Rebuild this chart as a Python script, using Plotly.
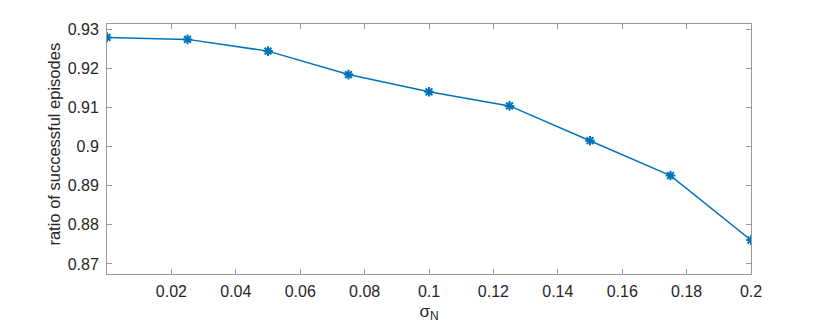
import plotly.graph_objects as go

# noise level and the ratio of successful episodes at each level
sigma_n = [0.0, 0.025, 0.05, 0.075, 0.1, 0.125, 0.15, 0.175, 0.2]
success_ratio = [0.9279, 0.9274, 0.9244, 0.9184, 0.9140, 0.9104, 0.9015, 0.8926, 0.8761]

x_ticks = [0.02, 0.04, 0.06, 0.08, 0.1, 0.12, 0.14, 0.16, 0.18, 0.2]
x_tick_text = ['0.02', '0.04', '0.06', '0.08', '0.1', '0.12', '0.14', '0.16', '0.18', '0.2']
y_ticks = [0.87, 0.88, 0.89, 0.9, 0.91, 0.92, 0.93]
y_tick_text = ['0.87', '0.88', '0.89', '0.9', '0.91', '0.92', '0.93']

fig = go.Figure()
fig.add_trace(go.Scatter(x=sigma_n, y=success_ratio, mode='lines+markers',
                         line=dict(color='#0072BD', width=1.5),
                         marker=dict(symbol='asterisk-open', size=8,
                                     line=dict(color='#0072BD', width=2)),
                         showlegend=False))

axis_style = dict(showline=True, linecolor='#999999', linewidth=1, mirror='ticks',
                  ticks='inside', ticklen=5, tickcolor='#999999', showgrid=False,
                  zeroline=False, tickfont=dict(family='Liberation Sans, Arial', size=16,
                                                color='#262626'))

fig.update_layout(
    width=830, height=334,
    margin=dict(l=107, r=79, t=24, b=60),
    paper_bgcolor='white', plot_bgcolor='white',
    font=dict(family='Liberation Sans, Arial', color='#262626'),
    xaxis=dict(range=[0, 0.2], tickvals=x_ticks, ticktext=x_tick_text,
               title=dict(text='σ<sub>N</sub>', font=dict(size=17), standoff=5),
               ticklabelstandoff=3, **axis_style),
    yaxis=dict(range=[0.86744, 0.93133], tickvals=y_ticks, ticktext=y_tick_text,
               ticklabelstandoff=4, **axis_style),
)

# y label sits a little above the middle of the axes, as in the original
fig.add_annotation(text='ratio of successful episodes', textangle=-90,
                   xref='paper', yref='paper', x=-0.083, y=0.52,
                   xanchor='center', yanchor='middle',
                   showarrow=False, font=dict(size=16.5, color='#262626'))

fig.write_html("out.html", config={'displayModeBar': False},
               post_script="document.body.style.margin='0';")
